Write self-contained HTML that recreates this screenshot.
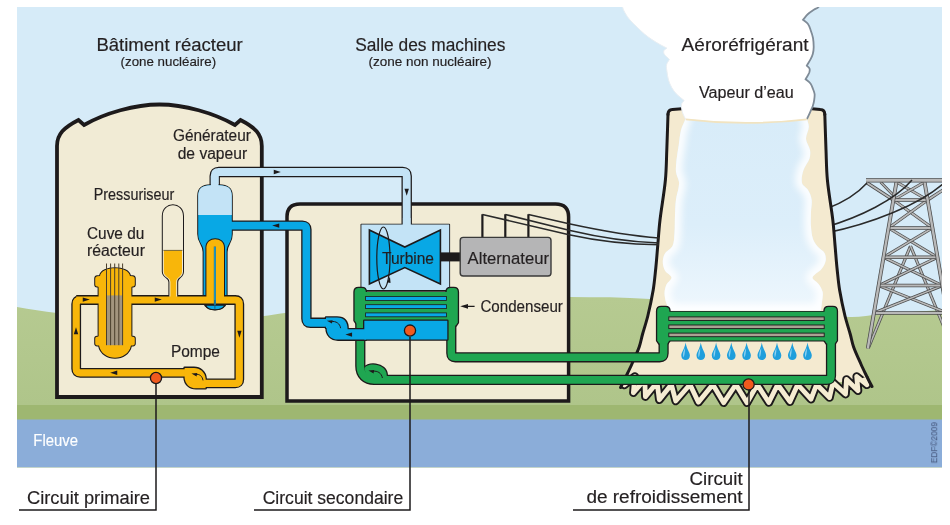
<!DOCTYPE html>
<html lang="fr">
<head>
<meta charset="utf-8">
<title>Centrale nucléaire – schéma de principe</title>
<style>
html,body{margin:0;padding:0;background:#ffffff;}
body{width:950px;height:525px;overflow:hidden;}
svg{display:block;font-family:"Liberation Sans",sans-serif;}
</style>
</head>
<body>
<svg width="950" height="525" viewBox="0 0 950 525">
<defs>
<clipPath id="pic"><rect x="17" y="7" width="925" height="460.4"/></clipPath>
<clipPath id="inClip"><path d="M685.5,119.0 C684.0,122.7 682.0,126.2 681.0,130.0 C679.8,134.8 679.5,139.8 678.8,144.7 C678.0,149.8 677.0,154.9 676.5,160.0 C676.1,164.0 675.6,168.1 676.0,172.0 C676.4,175.4 678.5,178.6 679.0,182.0 C679.3,184.0 678.8,186.0 678.5,188.0 C677.8,191.9 676.5,195.6 676.0,199.5 C675.3,204.6 675.2,209.8 675.0,215.0 C674.7,221.0 675.0,227.0 674.5,233.0 C674.1,237.4 674.3,242.2 672.5,246.0 C671.1,249.1 666.8,250.6 665.0,253.5 C663.5,255.9 662.8,259.2 662.8,262.0 C662.8,264.8 663.6,268.0 665.0,270.5 C666.5,273.2 671.2,275.0 671.5,277.5 C671.7,279.7 667.7,281.9 666.5,284.5 C665.4,286.9 664.7,289.8 664.6,292.5 C664.5,295.6 665.1,299.0 666.0,302.0 C666.9,305.0 668.7,307.7 670.0,310.5 L820.8,310.5 C821.2,307.7 821.7,304.8 822.0,302.0 C822.3,298.7 823.2,295.2 822.6,292.0 C822.0,289.2 820.2,286.4 818.5,284.0 C816.8,281.6 812.1,279.6 812.5,277.5 C813.1,274.6 819.0,272.2 821.5,269.0 C823.3,266.7 825.1,263.8 825.6,261.0 C826.1,258.5 825.7,255.2 824.5,253.0 C823.2,250.6 819.9,249.3 818.0,247.0 C816.0,244.6 814.0,241.9 813.0,239.0 C811.7,235.2 811.3,230.9 811.0,226.8 C810.6,221.9 810.9,216.9 811.0,212.0 C811.1,207.8 812.2,203.5 811.6,199.5 C811.2,196.2 809.7,192.9 808.0,190.0 C806.5,187.4 802.6,185.8 802.0,183.0 C801.1,179.1 802.2,174.1 803.5,170.0 C804.7,165.9 808.2,162.5 809.5,158.4 C810.3,155.8 810.5,152.7 810.0,150.0 C809.3,146.2 806.2,142.7 806.0,139.0 C805.8,135.1 808.6,131.0 808.8,127.0 C808.9,124.3 807.6,121.7 807.0,119.0 Q746.4,126 685.5,119 Z"/></clipPath>
<filter id="blur" x="-20%" y="-20%" width="140%" height="140%"><feGaussianBlur stdDeviation="3.5"/></filter>
<linearGradient id="gGround" x1="0" y1="297" x2="0" y2="405" gradientUnits="userSpaceOnUse">
<stop offset="0" stop-color="#b6ca91"/><stop offset="1" stop-color="#afc58a"/>
</linearGradient>
<linearGradient id="gSteam" x1="0" y1="119" x2="0" y2="311" gradientUnits="userSpaceOnUse">
<stop offset="0" stop-color="#d8ecf9"/><stop offset="0.55" stop-color="#dceefa"/><stop offset="1" stop-color="#eef7fd"/>
</linearGradient>
</defs>
<rect x="0" y="0" width="950" height="525" fill="#ffffff"/>
<g clip-path="url(#pic)">
<rect x="17" y="7" width="925" height="460" fill="#d6ebf8"/>
<path d="M10.0,305.8 C25.7,308.2 41.2,311.3 57.0,313.0 C91.2,316.7 125.6,321.5 160.0,322.0 C194.0,322.5 228.1,318.7 262.0,316.2 C270.4,315.6 278.6,313.6 287.0,312.8 C324.6,309.2 362.3,305.4 400.0,303.0 C439.9,300.5 480.0,299.4 520.0,298.0 C536.7,297.4 553.3,296.9 570.0,297.0 C596.7,297.2 623.4,297.1 650.0,299.0 C683.4,301.4 716.6,307.0 750.0,310.0 C783.3,313.0 816.7,315.9 850.0,317.0 C860.0,317.3 870.0,315.0 880.0,314.2 C903.3,312.5 926.7,311.1 950.0,309.5 L950,470 L10,470 Z" fill="url(#gGround)"/>
<rect x="17" y="405" width="925" height="15" fill="#9eb771"/>
<rect x="17" y="419.5" width="925" height="48" fill="#8badd9"/>
<g><line x1="868.6" y1="347.5" x2="910.5" y2="246.0" stroke="#4a4a4a" stroke-width="3.1" stroke-linecap="butt"/><line x1="868.6" y1="347.5" x2="910.5" y2="246.0" stroke="#b9b9b9" stroke-width="1.6"/><line x1="952.4" y1="347.5" x2="910.5" y2="246.0" stroke="#4a4a4a" stroke-width="3.1" stroke-linecap="butt"/><line x1="952.4" y1="347.5" x2="910.5" y2="246.0" stroke="#b9b9b9" stroke-width="1.6"/><line x1="896.5" y1="182.0" x2="927.6" y2="200.0" stroke="#4a4a4a" stroke-width="3.1" stroke-linecap="butt"/><line x1="896.5" y1="182.0" x2="927.6" y2="200.0" stroke="#b9b9b9" stroke-width="1.6"/><line x1="924.5" y1="182.0" x2="893.4" y2="200.0" stroke="#4a4a4a" stroke-width="3.1" stroke-linecap="butt"/><line x1="924.5" y1="182.0" x2="893.4" y2="200.0" stroke="#b9b9b9" stroke-width="1.6"/><line x1="893.4" y1="200.0" x2="932.4" y2="228.0" stroke="#4a4a4a" stroke-width="3.1" stroke-linecap="butt"/><line x1="893.4" y1="200.0" x2="932.4" y2="228.0" stroke="#b9b9b9" stroke-width="1.6"/><line x1="927.6" y1="200.0" x2="888.6" y2="228.0" stroke="#4a4a4a" stroke-width="3.1" stroke-linecap="butt"/><line x1="927.6" y1="200.0" x2="888.6" y2="228.0" stroke="#b9b9b9" stroke-width="1.6"/><line x1="888.6" y1="228.0" x2="937.5" y2="257.3" stroke="#4a4a4a" stroke-width="3.1" stroke-linecap="butt"/><line x1="888.6" y1="228.0" x2="937.5" y2="257.3" stroke="#b9b9b9" stroke-width="1.6"/><line x1="932.4" y1="228.0" x2="883.5" y2="257.3" stroke="#4a4a4a" stroke-width="3.1" stroke-linecap="butt"/><line x1="932.4" y1="228.0" x2="883.5" y2="257.3" stroke="#b9b9b9" stroke-width="1.6"/><line x1="883.5" y1="257.3" x2="942.4" y2="285.6" stroke="#4a4a4a" stroke-width="3.1" stroke-linecap="butt"/><line x1="883.5" y1="257.3" x2="942.4" y2="285.6" stroke="#b9b9b9" stroke-width="1.6"/><line x1="937.5" y1="257.3" x2="878.6" y2="285.6" stroke="#4a4a4a" stroke-width="3.1" stroke-linecap="butt"/><line x1="937.5" y1="257.3" x2="878.6" y2="285.6" stroke="#b9b9b9" stroke-width="1.6"/><line x1="878.6" y1="285.6" x2="947.1" y2="312.9" stroke="#4a4a4a" stroke-width="3.1" stroke-linecap="butt"/><line x1="878.6" y1="285.6" x2="947.1" y2="312.9" stroke="#b9b9b9" stroke-width="1.6"/><line x1="942.4" y1="285.6" x2="873.9" y2="312.9" stroke="#4a4a4a" stroke-width="3.1" stroke-linecap="butt"/><line x1="942.4" y1="285.6" x2="873.9" y2="312.9" stroke="#b9b9b9" stroke-width="1.6"/><line x1="893.4" y1="200.0" x2="927.6" y2="200.0" stroke="#4a4a4a" stroke-width="3.5" stroke-linecap="butt"/><line x1="893.4" y1="200.0" x2="927.6" y2="200.0" stroke="#b9b9b9" stroke-width="2.0"/><line x1="888.6" y1="228.0" x2="932.4" y2="228.0" stroke="#4a4a4a" stroke-width="3.5" stroke-linecap="butt"/><line x1="888.6" y1="228.0" x2="932.4" y2="228.0" stroke="#b9b9b9" stroke-width="2.0"/><line x1="883.5" y1="257.3" x2="937.5" y2="257.3" stroke="#4a4a4a" stroke-width="3.5" stroke-linecap="butt"/><line x1="883.5" y1="257.3" x2="937.5" y2="257.3" stroke="#b9b9b9" stroke-width="2.0"/><line x1="878.6" y1="285.6" x2="942.4" y2="285.6" stroke="#4a4a4a" stroke-width="3.5" stroke-linecap="butt"/><line x1="878.6" y1="285.6" x2="942.4" y2="285.6" stroke="#b9b9b9" stroke-width="2.0"/><line x1="873.9" y1="312.9" x2="947.1" y2="312.9" stroke="#4a4a4a" stroke-width="3.5" stroke-linecap="butt"/><line x1="873.9" y1="312.9" x2="947.1" y2="312.9" stroke="#b9b9b9" stroke-width="2.0"/><line x1="866.5" y1="182.5" x2="893.4" y2="200.0" stroke="#4a4a4a" stroke-width="3.3" stroke-linecap="butt"/><line x1="866.5" y1="182.5" x2="893.4" y2="200.0" stroke="#b9b9b9" stroke-width="1.8"/><line x1="954.5" y1="182.5" x2="927.6" y2="200.0" stroke="#4a4a4a" stroke-width="3.3" stroke-linecap="butt"/><line x1="954.5" y1="182.5" x2="927.6" y2="200.0" stroke="#b9b9b9" stroke-width="1.8"/><line x1="880.5" y1="182.0" x2="894.1" y2="196.0" stroke="#4a4a4a" stroke-width="2.7" stroke-linecap="butt"/><line x1="880.5" y1="182.0" x2="894.1" y2="196.0" stroke="#b9b9b9" stroke-width="1.2"/><line x1="896.8" y1="180.0" x2="867.8" y2="348.5" stroke="#4a4a4a" stroke-width="3.9" stroke-linecap="butt"/><line x1="896.8" y1="180.0" x2="867.8" y2="348.5" stroke="#b9b9b9" stroke-width="2.4"/><line x1="924.2" y1="180.0" x2="953.2" y2="348.5" stroke="#4a4a4a" stroke-width="3.9" stroke-linecap="butt"/><line x1="924.2" y1="180.0" x2="953.2" y2="348.5" stroke="#b9b9b9" stroke-width="2.4"/><line x1="866.0" y1="180.3" x2="956.0" y2="180.3" stroke="#4a4a4a" stroke-width="4.3" stroke-linecap="butt"/><line x1="866.0" y1="180.3" x2="956.0" y2="180.3" stroke="#b9b9b9" stroke-width="2.8"/></g>
<path d="M826,209 C842,203 858,193 867,183" fill="none" stroke="#2a2a2a" stroke-width="1.5"/>
<path d="M826,227 C860,217 895,200 912,180" fill="none" stroke="#2a2a2a" stroke-width="1.5"/>
<path d="M826,233 C870,224 920,205 945,182" fill="none" stroke="#2a2a2a" stroke-width="1.5"/>
<path d="M668.0,109.8 C667.6,123.2 667.3,136.6 666.8,150.0 C666.4,160.0 666.4,170.0 665.4,180.0 C664.1,193.4 661.6,206.6 660.0,220.0 C659.0,228.3 658.5,236.7 657.8,245.0 C657.1,252.7 656.6,260.3 655.8,268.0 C655.0,275.3 654.4,282.7 653.2,290.0 C651.7,298.7 649.9,307.4 647.8,316.0 C646.3,322.1 644.3,328.0 642.6,334.0 C641.4,338.3 640.7,342.8 639.2,347.0 C637.1,352.8 634.4,358.4 631.9,364.0 C630.4,367.4 628.8,370.7 627.2,374.0 C625.9,376.7 624.5,379.3 623.2,382.0 L869.6,382.0 C868.3,379.3 866.9,376.7 865.6,374.0 C864.0,370.7 862.4,367.4 860.9,364.0 C858.4,358.4 855.7,352.8 853.6,347.0 C852.1,342.8 851.4,338.3 850.2,334.0 C848.5,328.0 846.5,322.1 845.0,316.0 C842.9,307.4 841.1,298.7 839.6,290.0 C838.4,282.7 837.8,275.3 837.0,268.0 C836.2,260.3 835.7,252.7 835.0,245.0 C834.3,236.7 833.8,228.3 832.8,220.0 C831.2,206.6 828.7,193.4 827.4,180.0 C826.4,170.0 826.4,160.0 826.0,150.0 C825.5,136.6 825.2,123.2 824.8,109.8 Z" fill="#f4ead0"/>
<polyline points="628.4,377.5 624.4,385.0 634.8,376.5 633.4,392.8 644.8,379.5 645.4,396.6 657.1,382.5 659.3,399.8 671.4,384.5 675.7,401.0 690.0,384.5 698.4,402.2 712.8,384.5 723.7,402.7 735.9,384.5 747.0,402.7 757.3,384.5 768.8,402.5 777.7,384.5 789.9,401.7 797.7,384.5 811.0,399.2 816.6,384.5 829.5,397.5 832.9,382.5 845.5,394.1 846.5,379.5 858.0,390.7 856.7,376.5 867.0,384.8 864.0,377.5" fill="none" stroke="#1d1a1b" stroke-width="8.6" stroke-linejoin="round" stroke-linecap="butt"/>
<polyline points="628.4,377.5 624.4,385.0 634.8,376.5 633.4,392.8 644.8,379.5 645.4,396.6 657.1,382.5 659.3,399.8 671.4,384.5 675.7,401.0 690.0,384.5 698.4,402.2 712.8,384.5 723.7,402.7 735.9,384.5 747.0,402.7 757.3,384.5 768.8,402.5 777.7,384.5 789.9,401.7 797.7,384.5 811.0,399.2 816.6,384.5 829.5,397.5 832.9,382.5 845.5,394.1 846.5,379.5 858.0,390.7 856.7,376.5 867.0,384.8 864.0,377.5" fill="none" stroke="#f5ecd2" stroke-width="4.8" stroke-linejoin="round" stroke-linecap="butt"/>
<path d="M685.5,119.0 C684.0,122.7 682.0,126.2 681.0,130.0 C679.8,134.8 679.5,139.8 678.8,144.7 C678.0,149.8 677.0,154.9 676.5,160.0 C676.1,164.0 675.6,168.1 676.0,172.0 C676.4,175.4 678.5,178.6 679.0,182.0 C679.3,184.0 678.8,186.0 678.5,188.0 C677.8,191.9 676.5,195.6 676.0,199.5 C675.3,204.6 675.2,209.8 675.0,215.0 C674.7,221.0 675.0,227.0 674.5,233.0 C674.1,237.4 674.3,242.2 672.5,246.0 C671.1,249.1 666.8,250.6 665.0,253.5 C663.5,255.9 662.8,259.2 662.8,262.0 C662.8,264.8 663.6,268.0 665.0,270.5 C666.5,273.2 671.2,275.0 671.5,277.5 C671.7,279.7 667.7,281.9 666.5,284.5 C665.4,286.9 664.7,289.8 664.6,292.5 C664.5,295.6 665.1,299.0 666.0,302.0 C666.9,305.0 668.7,307.7 670.0,310.5 L820.8,310.5 C821.2,307.7 821.7,304.8 822.0,302.0 C822.3,298.7 823.2,295.2 822.6,292.0 C822.0,289.2 820.2,286.4 818.5,284.0 C816.8,281.6 812.1,279.6 812.5,277.5 C813.1,274.6 819.0,272.2 821.5,269.0 C823.3,266.7 825.1,263.8 825.6,261.0 C826.1,258.5 825.7,255.2 824.5,253.0 C823.2,250.6 819.9,249.3 818.0,247.0 C816.0,244.6 814.0,241.9 813.0,239.0 C811.7,235.2 811.3,230.9 811.0,226.8 C810.6,221.9 810.9,216.9 811.0,212.0 C811.1,207.8 812.2,203.5 811.6,199.5 C811.2,196.2 809.7,192.9 808.0,190.0 C806.5,187.4 802.6,185.8 802.0,183.0 C801.1,179.1 802.2,174.1 803.5,170.0 C804.7,165.9 808.2,162.5 809.5,158.4 C810.3,155.8 810.5,152.7 810.0,150.0 C809.3,146.2 806.2,142.7 806.0,139.0 C805.8,135.1 808.6,131.0 808.8,127.0 C808.9,124.3 807.6,121.7 807.0,119.0 Q746.4,126 685.5,119 Z" fill="url(#gSteam)"/>
<g clip-path="url(#inClip)"><path d="M685.5,113.0 C684.0,122.7 682.0,126.2 681.0,130.0 C679.8,134.8 679.5,139.8 678.8,144.7 C678.0,149.8 677.0,154.9 676.5,160.0 C676.1,164.0 675.6,168.1 676.0,172.0 C676.4,175.4 678.5,178.6 679.0,182.0 C679.3,184.0 678.8,186.0 678.5,188.0 C677.8,191.9 676.5,195.6 676.0,199.5 C675.3,204.6 675.2,209.8 675.0,215.0 C674.7,221.0 675.0,227.0 674.5,233.0 C674.1,237.4 674.3,242.2 672.5,246.0 C671.1,249.1 666.8,250.6 665.0,253.5 C663.5,255.9 662.8,259.2 662.8,262.0 C662.8,264.8 663.6,268.0 665.0,270.5 C666.5,273.2 671.2,275.0 671.5,277.5 C671.7,279.7 667.7,281.9 666.5,284.5 C665.4,286.9 664.7,289.8 664.6,292.5 C664.5,295.6 665.1,299.0 666.0,302.0 C666.9,305.0 668.7,307.7 670.0,310.5 L820.8,310.5 C821.2,307.7 821.7,304.8 822.0,302.0 C822.3,298.7 823.2,295.2 822.6,292.0 C822.0,289.2 820.2,286.4 818.5,284.0 C816.8,281.6 812.1,279.6 812.5,277.5 C813.1,274.6 819.0,272.2 821.5,269.0 C823.3,266.7 825.1,263.8 825.6,261.0 C826.1,258.5 825.7,255.2 824.5,253.0 C823.2,250.6 819.9,249.3 818.0,247.0 C816.0,244.6 814.0,241.9 813.0,239.0 C811.7,235.2 811.3,230.9 811.0,226.8 C810.6,221.9 810.9,216.9 811.0,212.0 C811.1,207.8 812.2,203.5 811.6,199.5 C811.2,196.2 809.7,192.9 808.0,190.0 C806.5,187.4 802.6,185.8 802.0,183.0 C801.1,179.1 802.2,174.1 803.5,170.0 C804.7,165.9 808.2,162.5 809.5,158.4 C810.3,155.8 810.5,152.7 810.0,150.0 C809.3,146.2 806.2,142.7 806.0,139.0 C805.8,135.1 808.6,131.0 808.8,127.0 C808.9,124.3 807.6,121.7 807.0,119.0 L807.0,113.0" fill="none" stroke="#ffffff" stroke-width="13" filter="url(#blur)" opacity="0.9"/></g>
<path d="M668.0,114.0 C667.6,126.0 667.3,138.0 666.8,150.0 C666.4,160.0 666.4,170.0 665.4,180.0 C664.1,193.4 661.6,206.6 660.0,220.0 C659.0,228.3 658.5,236.7 657.8,245.0 C657.1,252.7 656.6,260.3 655.8,268.0 C655.0,275.3 654.4,282.7 653.2,290.0 C651.7,298.7 649.9,307.4 647.8,316.0 C646.3,322.1 644.3,328.0 642.6,334.0 C641.4,338.3 640.7,342.8 639.2,347.0 C637.1,352.8 634.4,358.4 631.9,364.0 C630.4,367.4 628.8,370.7 627.2,374.0 C625.9,376.7 624.5,379.3 623.2,382.0 C622.3,383.8 621.5,385.7 620.6,387.5" fill="none" stroke="#1d1a1b" stroke-width="3" stroke-linecap="round"/>
<path d="M824.8,114.0 C825.2,126.0 825.5,138.0 826.0,150.0 C826.4,160.0 826.4,170.0 827.4,180.0 C828.7,193.4 831.2,206.6 832.8,220.0 C833.8,228.3 834.3,236.7 835.0,245.0 C835.7,252.7 836.2,260.3 837.0,268.0 C837.8,275.3 838.4,282.7 839.6,290.0 C841.1,298.7 842.9,307.4 845.0,316.0 C846.5,322.1 848.5,328.0 850.2,334.0 C851.4,338.3 852.1,342.8 853.6,347.0 C855.7,352.8 858.4,358.4 860.9,364.0 C862.4,367.4 864.0,370.7 865.6,374.0 C866.9,376.7 868.2,379.3 869.6,382.0 C870.4,383.5 871.2,385.0 872.0,386.5" fill="none" stroke="#1d1a1b" stroke-width="3" stroke-linecap="round"/>
<path d="M668,114.5 Q668,109.9 672.5,109.6 L682,108.8" fill="none" stroke="#1d1a1b" stroke-width="3" stroke-linecap="round"/>
<path d="M824.8,114.5 Q824.8,109.9 820.3,109.6 L812,108.8" fill="none" stroke="#1d1a1b" stroke-width="3" stroke-linecap="round"/>
<path d="M621.9,2.0 C622.1,3.7 622.1,5.4 622.5,7.0 C623.0,8.9 623.8,10.7 624.8,12.4 C626.3,15.0 628.0,17.7 630.0,20.0 C632.2,22.6 634.8,24.8 637.2,27.2 C639.6,29.5 642.0,31.9 644.5,34.0 C646.9,36.0 649.4,37.9 652.0,39.6 C654.6,41.4 657.3,42.9 660.0,44.5 C662.3,45.8 664.7,47.0 667.0,48.2 C666.0,49.0 664.5,49.5 664.0,50.5 C663.6,51.4 663.6,53.1 664.2,54.0 C665.4,56.0 667.7,57.6 669.4,59.4 C668.4,61.3 666.9,63.0 666.5,65.0 C666.1,67.1 666.7,69.5 667.0,71.7 C667.4,74.5 667.7,77.3 668.5,80.0 C669.3,82.7 670.5,85.4 671.9,87.8 C673.2,90.0 674.7,92.2 676.5,94.0 C678.8,96.4 681.6,98.3 684.2,100.5 C683.3,101.7 681.9,102.7 681.5,104.0 C681.1,105.5 681.5,107.3 681.7,108.9 C682.0,110.6 682.4,112.4 683.0,114.0 C683.7,115.7 684.7,117.3 685.5,119.0 Q746.4,126 807,119 C808.2,116.4 809.4,113.9 810.5,111.3 C811.3,109.5 812.2,107.8 812.8,106.0 C813.4,104.1 813.9,102.0 814.2,100.0 C814.5,98.0 814.8,96.0 814.6,94.0 C814.4,92.3 813.6,90.6 813.0,89.0 C812.3,87.1 811.7,85.1 810.5,83.5 C809.2,81.8 807.2,80.6 805.6,79.2 C806.8,77.0 808.4,74.8 809.3,72.5 C809.7,71.3 809.9,69.7 809.5,68.5 C809.1,67.4 807.7,66.6 806.8,65.6 C808.0,63.5 809.4,61.5 810.5,59.4 C811.4,57.7 812.3,55.9 812.8,54.0 C813.4,51.7 813.7,49.3 813.7,47.0 C813.7,44.0 813.5,40.9 813.0,38.0 C812.5,35.2 811.5,32.4 810.5,29.7 C809.8,27.7 809.2,25.6 808.0,24.0 C806.7,22.3 804.7,21.2 803.0,19.8 C804.7,17.9 806.1,15.7 808.0,14.0 C809.9,12.3 812.1,10.9 814.2,9.5 C815.6,8.6 817.7,8.2 818.5,7.0 C819.3,5.7 819.0,3.7 819.2,2.0 Z" fill="#ffffff"/>
<path d="M819.2,2.0 C819.0,3.7 819.3,5.7 818.5,7.0 C817.7,8.2 815.6,8.6 814.2,9.5 C812.1,10.9 809.9,12.3 808.0,14.0 C806.1,15.7 804.7,17.9 803.0,19.8 C804.7,21.2 806.7,22.3 808.0,24.0 C809.2,25.6 809.8,27.7 810.5,29.7 C811.5,32.4 812.5,35.2 813.0,38.0 C813.5,40.9 813.7,44.0 813.7,47.0 C813.7,49.3 813.4,51.7 812.8,54.0 C812.3,55.9 811.4,57.7 810.5,59.4 C809.4,61.5 808.0,63.5 806.8,65.6 C807.7,66.6 809.1,67.4 809.5,68.5 C809.9,69.7 809.7,71.3 809.3,72.5 C808.4,74.8 806.8,77.0 805.6,79.2 C807.2,80.6 809.2,81.8 810.5,83.5 C811.7,85.1 812.3,87.1 813.0,89.0 C813.6,90.6 814.4,92.3 814.6,94.0 C814.8,96.0 814.5,98.0 814.2,100.0 C813.9,102.0 813.4,104.1 812.8,106.0 C812.2,107.8 811.3,109.5 810.5,111.3 C809.4,113.9 808.2,116.4 807.0,119.0" fill="none" stroke="#7f8b97" stroke-width="1.8"/>
<path d="M621.9,2.0 C622.1,3.7 622.1,5.4 622.5,7.0 C623.0,8.9 623.8,10.7 624.8,12.4 C626.3,15.0 628.0,17.7 630.0,20.0 C632.2,22.6 634.8,24.8 637.2,27.2 C639.6,29.5 642.0,31.9 644.5,34.0 C646.9,36.0 649.4,37.9 652.0,39.6 C654.6,41.4 657.3,42.9 660.0,44.5 C662.3,45.8 664.7,47.0 667.0,48.2 C666.0,49.0 664.5,49.5 664.0,50.5 C663.6,51.4 663.6,53.1 664.2,54.0 C665.4,56.0 667.7,57.6 669.4,59.4 C668.4,61.3 666.9,63.0 666.5,65.0 C666.1,67.1 666.7,69.5 667.0,71.7 C667.4,74.5 667.7,77.3 668.5,80.0 C669.3,82.7 670.5,85.4 671.9,87.8 C673.2,90.0 674.7,92.2 676.5,94.0 C678.8,96.4 681.6,98.3 684.2,100.5 C683.3,101.7 681.9,102.7 681.5,104.0 C681.1,105.5 681.5,107.3 681.7,108.9 C682.0,110.6 682.4,112.4 683.0,114.0 C683.7,115.7 684.7,117.3 685.5,119.0" fill="none" stroke="#e9eef2" stroke-width="1"/>
<path d="M685.8,119.3 Q746.4,126.6 806.8,119.3" fill="none" stroke="#f1e3c0" stroke-width="1.7"/>
<path d="M685.6,342.4 C684.6,349 681.3,352 681.3,355.6 C681.3,361.6 689.9,361.6 689.9,355.6 C689.9,352 686.6,349 685.6,342.4 Z" fill="#1f9fdc"/>
<path d="M685.0,348 C683.0,352 682.7,354 683.4,357.5 C684.4,356 685.0,352 685.0,348 Z" fill="#8fd3f2"/>
<path d="M700.8,342.4 C699.8,349 696.5,352 696.5,355.6 C696.5,361.6 705.1,361.6 705.1,355.6 C705.1,352 701.8,349 700.8,342.4 Z" fill="#1f9fdc"/>
<path d="M700.2,348 C698.2,352 697.9,354 698.6,357.5 C699.6,356 700.2,352 700.2,348 Z" fill="#8fd3f2"/>
<path d="M716.1,342.4 C715.1,349 711.8,352 711.8,355.6 C711.8,361.6 720.4,361.6 720.4,355.6 C720.4,352 717.1,349 716.1,342.4 Z" fill="#1f9fdc"/>
<path d="M715.5,348 C713.5,352 713.2,354 713.9,357.5 C714.9,356 715.5,352 715.5,348 Z" fill="#8fd3f2"/>
<path d="M731.3,342.4 C730.3,349 727.0,352 727.0,355.6 C727.0,361.6 735.6,361.6 735.6,355.6 C735.6,352 732.3,349 731.3,342.4 Z" fill="#1f9fdc"/>
<path d="M730.7,348 C728.7,352 728.4,354 729.1,357.5 C730.1,356 730.7,352 730.7,348 Z" fill="#8fd3f2"/>
<path d="M746.6,342.4 C745.6,349 742.3,352 742.3,355.6 C742.3,361.6 750.9,361.6 750.9,355.6 C750.9,352 747.6,349 746.6,342.4 Z" fill="#1f9fdc"/>
<path d="M746.0,348 C744.0,352 743.7,354 744.4,357.5 C745.4,356 746.0,352 746.0,348 Z" fill="#8fd3f2"/>
<path d="M761.8,342.4 C760.8,349 757.5,352 757.5,355.6 C757.5,361.6 766.1,361.6 766.1,355.6 C766.1,352 762.8,349 761.8,342.4 Z" fill="#1f9fdc"/>
<path d="M761.2,348 C759.2,352 758.9,354 759.6,357.5 C760.6,356 761.2,352 761.2,348 Z" fill="#8fd3f2"/>
<path d="M777.0,342.4 C776.0,349 772.7,352 772.7,355.6 C772.7,361.6 781.3,361.6 781.3,355.6 C781.3,352 778.0,349 777.0,342.4 Z" fill="#1f9fdc"/>
<path d="M776.4,348 C774.4,352 774.1,354 774.8,357.5 C775.8,356 776.4,352 776.4,348 Z" fill="#8fd3f2"/>
<path d="M792.3,342.4 C791.3,349 788.0,352 788.0,355.6 C788.0,361.6 796.6,361.6 796.6,355.6 C796.6,352 793.3,349 792.3,342.4 Z" fill="#1f9fdc"/>
<path d="M791.7,348 C789.7,352 789.4,354 790.1,357.5 C791.1,356 791.7,352 791.7,348 Z" fill="#8fd3f2"/>
<path d="M807.5,342.4 C806.5,349 803.2,352 803.2,355.6 C803.2,361.6 811.8,361.6 811.8,355.6 C811.8,352 808.5,349 807.5,342.4 Z" fill="#1f9fdc"/>
<path d="M806.9,348 C804.9,352 804.6,354 805.3,357.5 C806.3,356 806.9,352 806.9,348 Z" fill="#8fd3f2"/>
</g>
<g clip-path="url(#pic)">
<path d="M57,397 L57,146 C57,134 64,127.5 78.5,120 L84,125 C105,113 135,104.5 159.5,104.5 C184,104.5 214,113 235,125 L240.5,120 C255,127.5 261.8,134 261.8,146 L261.8,397 Z" fill="#f1ebd5" stroke="#1d1a1b" stroke-width="3.8" stroke-linejoin="miter"/>
<path d="M287,400.9 L287,217 Q287,204 300,204 L555.5,204 Q568.6,204 568.6,217 L568.6,400.9 Z" fill="#f1ebd5" stroke="#1d1a1b" stroke-width="3.5" stroke-linejoin="miter"/>
<line x1="482.4" y1="214.3" x2="482.4" y2="238" stroke="#1d1a1b" stroke-width="2.2"/>
<line x1="505.3" y1="214.3" x2="505.3" y2="238" stroke="#1d1a1b" stroke-width="2.2"/>
<line x1="528.4" y1="214.3" x2="528.4" y2="238" stroke="#1d1a1b" stroke-width="2.2"/>
<path d="M482.4,214.5 L569,234.7 C600,241.5 630,244.5 659,244.8" fill="none" stroke="#2a2a2a" stroke-width="1.6"/>
<path d="M505.3,214.5 L569,230.2 C600,237.5 630,242 659,243" fill="none" stroke="#2a2a2a" stroke-width="1.6"/>
<path d="M528.4,214.5 L569,223.8 C600,230.5 630,236 659,238" fill="none" stroke="#2a2a2a" stroke-width="1.6"/>
<path d="M361.4,224.6 L449.2,224.6 L449.2,290 L361.4,290 Z" fill="#1d1a1b" stroke="#1d1a1b" stroke-width="1.8" stroke-linejoin="round"/>
<path d="M214.7,187 L214.7,176 Q214.7,172 218.7,172 L402.7,172 Q406.7,172 406.7,176 L406.7,228" fill="none" stroke="#1d1a1b" stroke-width="10.4" stroke-linejoin="round"/>
<path d="M361.4,224.6 L449.2,224.6 L449.2,290 L361.4,290 Z" fill="#c3e3f6"/>
<path d="M214.7,187 L214.7,176 Q214.7,172 218.7,172 L402.7,172 Q406.7,172 406.7,176 L406.7,228" fill="none" stroke="#c3e3f6" stroke-width="7.9" stroke-linejoin="round"/>
<path d="M451.3,320 L451.3,353.3 Q451.3,357.3 455.3,357.3 L659.6,357.3 Q663.6,357.3 663.6,353.3 L663.6,338" fill="none" stroke="#1d1a1b" stroke-width="10.2" stroke-linejoin="round"/>
<path d="M360.3,320 L360.3,366 C360.3,375 366,379.9 374,379.9 L827,379.9 Q831,379.9 831,375.9 L831,338" fill="none" stroke="#1d1a1b" stroke-width="10.2" stroke-linejoin="round"/>
<path d="M364.5,369 C364.5,362.6 386.8,361.6 386.8,376 L386.8,382 L368,382 Z" fill="#1d1a1b" stroke="#1d1a1b" stroke-width="2.6" stroke-linejoin="round"/>
<path d="M354.6,320.5 L354.6,292.0 Q354.6,288.0 358.6,288.0 L361.8,288.0 Q365.8,288.0 365.8,292.0 L365.8,320.5 L363.8,323.5 L356.6,323.5 Z" fill="#1d1a1b" stroke="#1d1a1b" stroke-width="2.6" stroke-linejoin="round"/>
<path d="M446.6,322.5 L446.6,292.0 Q446.6,288.0 450.6,288.0 L453.8,288.0 Q457.8,288.0 457.8,292.0 L457.8,322.5 L455.8,325.5 L448.6,325.5 Z" fill="#1d1a1b" stroke="#1d1a1b" stroke-width="2.6" stroke-linejoin="round"/>
<path d="M657.2,340.5 L657.2,311.0 Q657.2,307.0 661.2,307.0 L665.4,307.0 Q669.4,307.0 669.4,311.0 L669.4,340.5 L667.4,343.5 L659.2,343.5 Z" fill="#1d1a1b" stroke="#1d1a1b" stroke-width="2.6" stroke-linejoin="round"/>
<path d="M824.6,340.5 L824.6,311.0 Q824.6,307.0 828.6,307.0 L832.8,307.0 Q836.8,307.0 836.8,311.0 L836.8,340.5 L834.8,343.5 L826.6,343.5 Z" fill="#1d1a1b" stroke="#1d1a1b" stroke-width="2.6" stroke-linejoin="round"/>
<path d="M365,292 L447,292 L447,321 L365,321 Z" fill="#1d1a1b" stroke="#1d1a1b" stroke-width="1.6" stroke-linejoin="round"/>
<path d="M668,311.8 L825,311.8 L825,340.6 L668,340.6 Z" fill="#1d1a1b" stroke="#1d1a1b" stroke-width="1.6" stroke-linejoin="round"/>
<path d="M451.3,320 L451.3,353.3 Q451.3,357.3 455.3,357.3 L659.6,357.3 Q663.6,357.3 663.6,353.3 L663.6,338" fill="none" stroke="#1fa651" stroke-width="7.6" stroke-linejoin="round"/>
<path d="M360.3,320 L360.3,366 C360.3,375 366,379.9 374,379.9 L827,379.9 Q831,379.9 831,375.9 L831,338" fill="none" stroke="#1fa651" stroke-width="7.6" stroke-linejoin="round"/>
<path d="M364.5,369 C364.5,362.6 386.8,361.6 386.8,376 L386.8,382 L368,382 Z" fill="#1fa651"/>
<path d="M354.6,320.5 L354.6,292.0 Q354.6,288.0 358.6,288.0 L361.8,288.0 Q365.8,288.0 365.8,292.0 L365.8,320.5 L363.8,323.5 L356.6,323.5 Z" fill="#1fa651"/>
<path d="M446.6,322.5 L446.6,292.0 Q446.6,288.0 450.6,288.0 L453.8,288.0 Q457.8,288.0 457.8,292.0 L457.8,322.5 L455.8,325.5 L448.6,325.5 Z" fill="#1fa651"/>
<path d="M657.2,340.5 L657.2,311.0 Q657.2,307.0 661.2,307.0 L665.4,307.0 Q669.4,307.0 669.4,311.0 L669.4,340.5 L667.4,343.5 L659.2,343.5 Z" fill="#1fa651"/>
<path d="M824.6,340.5 L824.6,311.0 Q824.6,307.0 828.6,307.0 L832.8,307.0 Q836.8,307.0 836.8,311.0 L836.8,340.5 L834.8,343.5 L826.6,343.5 Z" fill="#1fa651"/>
<path d="M365,292 L447,292 L447,321 L365,321 Z" fill="#1fa651"/>
<path d="M668,311.8 L825,311.8 L825,340.6 L668,340.6 Z" fill="#1fa651"/>
<rect x="365.6" y="296.5" width="80.8" height="3.9" fill="#08a8e5" stroke="#1d1a1b" stroke-width="0.8"/>
<rect x="365.6" y="304.7" width="80.8" height="3.9" fill="#08a8e5" stroke="#1d1a1b" stroke-width="0.8"/>
<rect x="365.6" y="312.9" width="80.8" height="3.9" fill="#08a8e5" stroke="#1d1a1b" stroke-width="0.8"/>
<rect x="668.8" y="316.9" width="155.4" height="3.6" fill="#aaa193" stroke="#1d1a1b" stroke-width="0.9"/>
<rect x="668.8" y="325.0" width="155.4" height="3.6" fill="#aaa193" stroke="#1d1a1b" stroke-width="0.9"/>
<rect x="668.8" y="333.1" width="155.4" height="3.6" fill="#aaa193" stroke="#1d1a1b" stroke-width="0.9"/>
<path d="M372.6,371.4 C377.6,370.4 381.6,373.2 382.4,378" fill="none" stroke="#1d1a1b" stroke-width="1"/>
<path d="M4,0 L-3.4,-2.3 L-3.4,2.3 Z" fill="#1d1a1b" transform="translate(371.4,371.2) rotate(192) scale(0.75)"/>
<path d="M352,334.4 L345,334.4 M330,322.8 L310.4,322.8 Q306.4,322.8 306.4,318.8 L306.4,229.6 Q306.4,225.6 302.4,225.6 L228,225.6" fill="none" stroke="#1d1a1b" stroke-width="10.4" stroke-linejoin="round"/>
<path d="M326,317.6 L337,317.6 C344,317.6 347.6,322 347.6,329.2 L366,329.2 L366,339.6 L338,339.6 C331,339.6 326.6,335 326.6,328 L326,328 Z" fill="#1d1a1b" stroke="#1d1a1b" stroke-width="2.6" stroke-linejoin="round"/>
<path d="M364.3,320.7 L447.3,320.7 L447.3,339.5 L364.3,339.5 Z" fill="#1d1a1b" stroke="#1d1a1b" stroke-width="2.6" stroke-linejoin="round"/>
<path d="M210.4,185.2 C202,185.2 198.2,188.5 198.2,196 L198.2,234 C198.2,243 203.6,244 203.6,252 L203.6,300 C203.6,306 209,309.4 215,309.4 C221,309.4 226.6,306 226.6,300 L226.6,252 C226.6,244 231.8,243 231.8,234 L231.8,196 C231.8,188.5 228,185.2 219,185.2 Z" fill="#1d1a1b" stroke="#1d1a1b" stroke-width="2.0" stroke-linejoin="round"/>
<path d="M352,334.4 L345,334.4 M330,322.8 L310.4,322.8 Q306.4,322.8 306.4,318.8 L306.4,229.6 Q306.4,225.6 302.4,225.6 L228,225.6" fill="none" stroke="#08a8e5" stroke-width="7.8" stroke-linejoin="round"/>
<path d="M326,317.6 L337,317.6 C344,317.6 347.6,322 347.6,329.2 L366,329.2 L366,339.6 L338,339.6 C331,339.6 326.6,335 326.6,328 L326,328 Z" fill="#08a8e5"/>
<path d="M364.3,320.7 L447.3,320.7 L447.3,339.5 L364.3,339.5 Z" fill="#08a8e5"/>
<path d="M210.4,185.2 C202,185.2 198.2,188.5 198.2,196 L198.2,234 C198.2,243 203.6,244 203.6,252 L203.6,300 C203.6,306 209,309.4 215,309.4 C221,309.4 226.6,306 226.6,300 L226.6,252 C226.6,244 231.8,243 231.8,234 L231.8,196 C231.8,188.5 228,185.2 219,185.2 Z" fill="#08a8e5"/>
<path d="M210.4,185.2 C202,185.2 198.2,188.5 198.2,196 L198.2,215 L231.8,215 L231.8,196 C231.8,188.5 228,185.2 219,185.2 Z" fill="#c3e3f6"/>
<rect x="210.9" y="176" width="7.6" height="14" fill="#c3e3f6"/>
<rect x="402.9" y="218" width="7.6" height="12" fill="#c3e3f6"/>
<path d="M331,321.6 C336,320.8 340,323.6 340.6,328.2" fill="none" stroke="#1d1a1b" stroke-width="1"/>
<path d="M4,0 L-3.4,-2.3 L-3.4,2.3 Z" fill="#1d1a1b" transform="translate(329.8,321.4) rotate(192) scale(0.75)"/>
<path d="M4,0 L-3.4,-2.3 L-3.4,2.3 Z" fill="#1d1a1b" transform="translate(349.0,334.6) rotate(180) scale(0.90)"/>
<path d="M206.4,301 L206.4,247.5 C206.4,236.4 224,236.4 224,247.5 L224,301 Z" fill="#1d1a1b" stroke="#1d1a1b" stroke-width="2.0" stroke-linejoin="round"/>
<path d="M162.8,216 C162.8,201.6 183,201.6 183,216 L183,271.5 C183,277.5 177.2,277 177.2,282 L177.2,297 L169.4,297 L169.4,282 C169.4,277 162.8,277.5 162.8,271.5 Z" fill="#1d1a1b" stroke="#1d1a1b" stroke-width="2.0" stroke-linejoin="round"/>
<path d="M98.6,296 L98.6,287.5 Q98.6,286.4 97.4,286.4 L97,286.4 Q95.2,286.4 95.2,284.5 L95.2,278.5 Q95.2,276.4 97.2,276.2 L100,276 C101,265.5 129,265.5 130,276 L132.8,276.2 Q134.8,276.4 134.8,278.5 L134.8,284.5 Q134.8,286.4 133,286.4 L132.6,286.4 Q131.4,286.4 131.4,287.5 L131.4,336 Q131.4,336.8 132.6,336.8 L133,336.8 Q134.8,336.8 134.8,338.6 L134.8,343.4 Q134.8,345.2 132.8,345.4 L131,345.6 C128,361.8 102,361.8 99,345.6 L97.2,345.4 Q95.2,345.2 95.2,343.4 L95.2,338.6 Q95.2,336.8 97,336.8 L97.4,336.8 Q98.6,336.8 98.6,336 Z" fill="#1d1a1b" stroke="#1d1a1b" stroke-width="2.0" stroke-linejoin="round"/>
<path d="M76.2,300 L235.3,300 Q239.3,300 239.3,304 L239.3,379.4 Q239.3,383.4 235.3,383.4 L203,383.4 M188,372.8 L80.2,372.8 Q76.2,372.8 76.2,368.8 L76.2,304 Q76.2,300 80.2,300" fill="none" stroke="#1d1a1b" stroke-width="9.8" stroke-linejoin="round"/>
<path d="M205.6,378.5 L205.6,388.3 L196,388.3 C189.6,388.3 185,384 184.6,377.7 L184.6,367.9 L194,367.9 C200,367.9 205,372 205.6,378.5 Z" fill="#1d1a1b" stroke="#1d1a1b" stroke-width="2.6" stroke-linejoin="round"/>
<path d="M206.4,301 L206.4,247.5 C206.4,236.4 224,236.4 224,247.5 L224,301 Z" fill="#f8b60a"/>
<path d="M162.8,216 C162.8,201.6 183,201.6 183,216 L183,271.5 C183,277.5 177.2,277 177.2,282 L177.2,297 L169.4,297 L169.4,282 C169.4,277 162.8,277.5 162.8,271.5 Z" fill="#f1ebd5"/>
<path d="M98.6,296 L98.6,287.5 Q98.6,286.4 97.4,286.4 L97,286.4 Q95.2,286.4 95.2,284.5 L95.2,278.5 Q95.2,276.4 97.2,276.2 L100,276 C101,265.5 129,265.5 130,276 L132.8,276.2 Q134.8,276.4 134.8,278.5 L134.8,284.5 Q134.8,286.4 133,286.4 L132.6,286.4 Q131.4,286.4 131.4,287.5 L131.4,336 Q131.4,336.8 132.6,336.8 L133,336.8 Q134.8,336.8 134.8,338.6 L134.8,343.4 Q134.8,345.2 132.8,345.4 L131,345.6 C128,361.8 102,361.8 99,345.6 L97.2,345.4 Q95.2,345.2 95.2,343.4 L95.2,338.6 Q95.2,336.8 97,336.8 L97.4,336.8 Q98.6,336.8 98.6,336 Z" fill="#f8b60a"/>
<path d="M76.2,300 L235.3,300 Q239.3,300 239.3,304 L239.3,379.4 Q239.3,383.4 235.3,383.4 L203,383.4 M188,372.8 L80.2,372.8 Q76.2,372.8 76.2,368.8 L76.2,304 Q76.2,300 80.2,300" fill="none" stroke="#f8b60a" stroke-width="7.2" stroke-linejoin="round"/>
<path d="M205.6,378.5 L205.6,388.3 L196,388.3 C189.6,388.3 185,384 184.6,377.7 L184.6,367.9 L194,367.9 C200,367.9 205,372 205.6,378.5 Z" fill="#f8b60a"/>
<path d="M163.8,250.6 L182,250.6 L182,271.5 C182,277.2 176.2,277 176.2,282 L176.2,298 L170.4,298 L170.4,282 C170.4,277 163.8,277.2 163.8,271.5 Z" fill="#f8b60a"/>
<line x1="163.4" y1="250.4" x2="182.4" y2="250.4" stroke="#6b5a2a" stroke-width="0.9"/>
<line x1="214.9" y1="246.5" x2="214.9" y2="306.5" stroke="#4d6a68" stroke-width="2.2"/>
<line x1="214.9" y1="247" x2="214.9" y2="306" stroke="#08a8e5" stroke-width="1.2"/>
<rect x="106.3" y="295.4" width="16.4" height="49.8" fill="#a3957d"/>
<line x1="106.5" y1="263.5" x2="106.5" y2="345.2" stroke="#4a3f2c" stroke-width="1"/>
<line x1="110.6" y1="263.5" x2="110.6" y2="345.2" stroke="#4a3f2c" stroke-width="1"/>
<line x1="114.7" y1="263.5" x2="114.7" y2="345.2" stroke="#4a3f2c" stroke-width="1"/>
<line x1="118.8" y1="263.5" x2="118.8" y2="345.2" stroke="#4a3f2c" stroke-width="1"/>
<line x1="122.6" y1="263.5" x2="122.6" y2="345.2" stroke="#4a3f2c" stroke-width="1"/>
<path d="M205.4,305.2 C207,308.8 211,309.8 215,309.8 C219,309.8 223,308.8 224.8,305.2 Z" fill="#08a8e5" stroke="#1d1a1b" stroke-width="1.1"/>
<line x1="214.9" y1="300" x2="214.9" y2="308.8" stroke="#0b5f86" stroke-width="1"/>
<path d="M4,0 L-3.4,-2.3 L-3.4,2.3 Z" fill="#1d1a1b" transform="translate(86.0,299.6) rotate(0) scale(0.95)"/>
<path d="M4,0 L-3.4,-2.3 L-3.4,2.3 Z" fill="#1d1a1b" transform="translate(158.0,299.6) rotate(0) scale(0.95)"/>
<path d="M4,0 L-3.4,-2.3 L-3.4,2.3 Z" fill="#1d1a1b" transform="translate(76.0,331.0) rotate(-90) scale(0.95)"/>
<path d="M4,0 L-3.4,-2.3 L-3.4,2.3 Z" fill="#1d1a1b" transform="translate(239.4,334.0) rotate(90) scale(0.95)"/>
<path d="M4,0 L-3.4,-2.3 L-3.4,2.3 Z" fill="#1d1a1b" transform="translate(114.0,372.8) rotate(180) scale(0.95)"/>
<path d="M195.6,374.4 C199.6,373.8 202.4,376.3 203,380.4" fill="none" stroke="#1d1a1b" stroke-width="1"/>
<path d="M4,0 L-3.4,-2.3 L-3.4,2.3 Z" fill="#1d1a1b" transform="translate(194.4,374.2) rotate(192) scale(0.75)"/>
<path d="M369.4,230 L404.8,247 L440.4,230 L440.4,284 L404.8,267.6 L369.4,284 Z" fill="#08a8e5" stroke="#1d1a1b" stroke-width="1.6" stroke-linejoin="miter"/>
<ellipse cx="383.4" cy="258" rx="6.6" ry="31" fill="none" stroke="#1d1a1b" stroke-width="1.2"/>
<path d="M4,0 L-3.4,-2.3 L-3.4,2.3 Z" fill="#1d1a1b" transform="translate(389.3,280.0) rotate(-78) scale(0.80)"/>
<rect x="440.7" y="252.4" width="19.6" height="9" fill="#1d1a1b"/>
<rect x="460.2" y="237.4" width="90.8" height="38.6" rx="3" fill="#b5b5b6" stroke="#3a3a3a" stroke-width="1.4"/>
<path d="M4,0 L-3.4,-2.3 L-3.4,2.3 Z" fill="#1d1a1b" transform="translate(277.0,172.0) rotate(0) scale(0.95)"/>
<path d="M4,0 L-3.4,-2.3 L-3.4,2.3 Z" fill="#1d1a1b" transform="translate(276.0,225.6) rotate(180) scale(0.95)"/>
<path d="M4,0 L-3.4,-2.3 L-3.4,2.3 Z" fill="#1d1a1b" transform="translate(406.7,192.0) rotate(90) scale(0.95)"/>
<line x1="466" y1="306.3" x2="474.6" y2="306.3" stroke="#1d1a1b" stroke-width="1.3"/>
<path d="M4,0 L-3.4,-2.3 L-3.4,2.3 Z" fill="#1d1a1b" transform="translate(464.4,306.3) rotate(180) scale(1.05)"/>
</g>
<path d="M156,384 L156,510 L19,510" stroke="#1d1a1b" stroke-width="1.5" fill="none"/>
<path d="M410,337 L410,510 L254,510" stroke="#1d1a1b" stroke-width="1.5" fill="none"/>
<path d="M749,390 L749,510 L573,510" stroke="#1d1a1b" stroke-width="1.5" fill="none"/>
<circle cx="156.0" cy="378.0" r="5.6" fill="#f05a1e" stroke="#1d1a1b" stroke-width="1.3"/>
<circle cx="410.0" cy="330.6" r="5.6" fill="#f05a1e" stroke="#1d1a1b" stroke-width="1.3"/>
<circle cx="748.6" cy="384.4" r="5.6" fill="#f05a1e" stroke="#1d1a1b" stroke-width="1.3"/>
<g opacity="0.996">
<text x="96.4" y="50.6" font-size="17.5" text-anchor="start" fill="#231f20" stroke="#231f20" stroke-width="0.18" textLength="146.4" lengthAdjust="spacingAndGlyphs" >Bâtiment réacteur</text>
<text x="120.6" y="66.4" font-size="13.0" text-anchor="start" fill="#231f20" stroke="#231f20" stroke-width="0.18" textLength="95.5" lengthAdjust="spacingAndGlyphs" >(zone nucléaire)</text>
<text x="355.2" y="50.6" font-size="17.5" text-anchor="start" fill="#231f20" stroke="#231f20" stroke-width="0.18" textLength="150.2" lengthAdjust="spacingAndGlyphs" >Salle des machines</text>
<text x="368.4" y="66.4" font-size="13.0" text-anchor="start" fill="#231f20" stroke="#231f20" stroke-width="0.18" textLength="123.2" lengthAdjust="spacingAndGlyphs" >(zone non nucléaire)</text>
<text x="681.6" y="50.7" font-size="17.5" text-anchor="start" fill="#231f20" stroke="#231f20" stroke-width="0.18" textLength="127.0" lengthAdjust="spacingAndGlyphs" >Aéroréfrigérant</text>
<text x="699.0" y="98.0" font-size="15.6" text-anchor="start" fill="#231f20" stroke="#231f20" stroke-width="0.18" textLength="94.8" lengthAdjust="spacingAndGlyphs" >Vapeur d’eau</text>
<text x="172.9" y="141.4" font-size="15.6" text-anchor="start" fill="#231f20" stroke="#231f20" stroke-width="0.18" textLength="78.0" lengthAdjust="spacingAndGlyphs" >Générateur</text>
<text x="177.7" y="159.4" font-size="15.6" text-anchor="start" fill="#231f20" stroke="#231f20" stroke-width="0.18" textLength="69.4" lengthAdjust="spacingAndGlyphs" >de vapeur</text>
<text x="93.7" y="200.0" font-size="15.6" text-anchor="start" fill="#231f20" stroke="#231f20" stroke-width="0.18" textLength="80.6" lengthAdjust="spacingAndGlyphs" >Pressuriseur</text>
<text x="87.0" y="238.6" font-size="15.6" text-anchor="start" fill="#231f20" stroke="#231f20" stroke-width="0.18" textLength="57.3" lengthAdjust="spacingAndGlyphs" >Cuve du</text>
<text x="87.0" y="255.7" font-size="15.6" text-anchor="start" fill="#231f20" stroke="#231f20" stroke-width="0.18" textLength="57.9" lengthAdjust="spacingAndGlyphs" >réacteur</text>
<text x="170.9" y="356.8" font-size="16.0" text-anchor="start" fill="#231f20" stroke="#231f20" stroke-width="0.18" textLength="49.0" lengthAdjust="spacingAndGlyphs" >Pompe</text>
<text x="382.0" y="263.6" font-size="16.6" text-anchor="start" fill="#231f20" stroke="#231f20" stroke-width="0.18" textLength="52.0" lengthAdjust="spacingAndGlyphs" >Turbine</text>
<text x="467.6" y="263.9" font-size="16.6" text-anchor="start" fill="#231f20" stroke="#231f20" stroke-width="0.18" textLength="81.4" lengthAdjust="spacingAndGlyphs" >Alternateur</text>
<text x="480.4" y="311.9" font-size="16.2" text-anchor="start" fill="#231f20" stroke="#231f20" stroke-width="0.18" textLength="82.5" lengthAdjust="spacingAndGlyphs" >Condenseur</text>
<text x="33.3" y="445.7" font-size="15.8" text-anchor="start" fill="#ffffff" stroke="#ffffff" stroke-width="0.18" textLength="44.7" lengthAdjust="spacingAndGlyphs" >Fleuve</text>
<text x="27.0" y="503.8" font-size="17.6" text-anchor="start" fill="#231f20" stroke="#231f20" stroke-width="0.18" textLength="123.0" lengthAdjust="spacingAndGlyphs" >Circuit primaire</text>
<text x="262.7" y="503.6" font-size="17.6" text-anchor="start" fill="#231f20" stroke="#231f20" stroke-width="0.18" textLength="140.5" lengthAdjust="spacingAndGlyphs" >Circuit secondaire</text>
<text x="689.6" y="485.3" font-size="17.6" text-anchor="start" fill="#231f20" stroke="#231f20" stroke-width="0.18" textLength="53.0" lengthAdjust="spacingAndGlyphs" >Circuit</text>
<text x="586.4" y="503.2" font-size="17.6" text-anchor="start" fill="#231f20" stroke="#231f20" stroke-width="0.18" textLength="156.2" lengthAdjust="spacingAndGlyphs" >de refroidissement</text>
<text transform="translate(937.2,463.2) rotate(-90)" font-size="8.2" fill="#44557a" textLength="41" lengthAdjust="spacingAndGlyphs">EDF©2009</text>
</g>
</svg>
</body>
</html>
